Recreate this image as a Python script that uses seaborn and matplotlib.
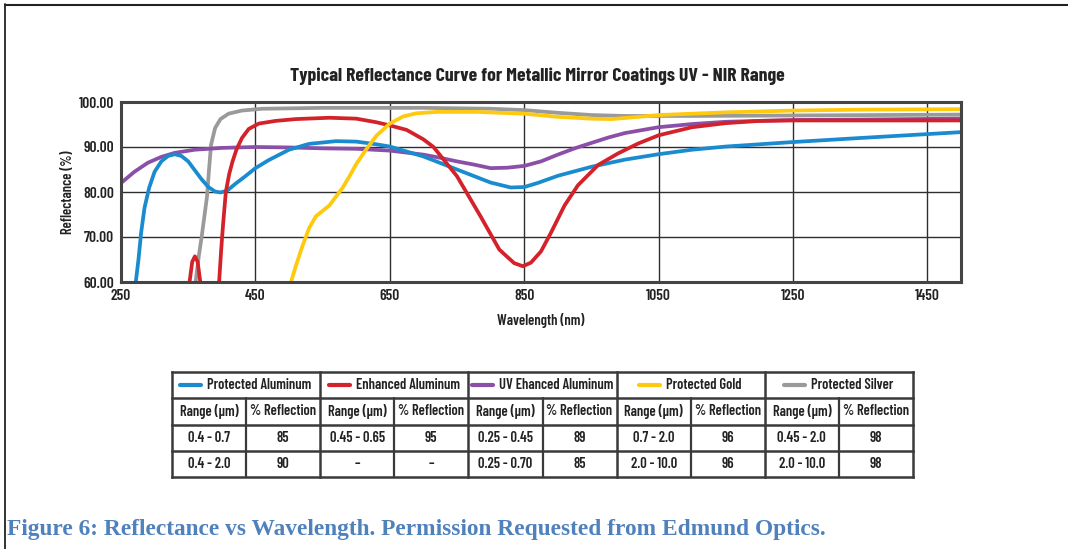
import numpy as np
import pandas as pd
import matplotlib
matplotlib.use("Agg")
import matplotlib.pyplot as plt
from matplotlib.lines import Line2D
import seaborn as sns

sns.set_theme(style="white")
plt.rcParams["font.family"] = ["Barlow Condensed", "Archivo Narrow", "Liberation Sans", "DejaVu Sans"]

W, H = 1068, 549

# curves (wavelength nm, reflectance %)
prot_al_wl = [272, 276, 280, 285, 292, 300, 310, 320, 330, 340, 350, 360, 370, 380, 390, 398, 408, 420, 435, 450,
              470, 500, 530, 570, 600, 630, 650, 700, 750, 800, 830, 850, 870, 900, 950, 1000, 1050, 1100, 1150,
              1250, 1350, 1500]
prot_al_r = [60, 65, 71, 76.5, 81, 84.5, 86.8, 88, 88.4, 88, 86.8, 84.8, 82.8, 81.1, 80.1, 79.9, 80.3, 81.8, 83.5, 85.3,
             87.1, 89.4, 90.7, 91.3, 91.2, 90.6, 90.1, 87.9, 85.0, 82.1, 81.0, 81.1, 82.0, 83.6, 85.6, 87.2, 88.4, 89.4,
             90.1, 91.1, 92.0, 93.3]

enh_al_wl = [345, 352, 356, 360, 364, 368, 372, 390, 396, 399, 402, 406, 411, 416, 422, 430, 440, 455, 480, 510,
             560, 600, 630, 650, 675, 700, 715, 750, 785, 813, 835, 848, 860, 875, 890, 910, 930, 960, 990, 1020,
             1050, 1100, 1150, 1200, 1250, 1500]
enh_al_r = [50, 60, 64.5, 65.7, 64.5, 60, 50, 45, 60, 67, 73, 80, 84, 86.8, 89.5, 92, 94, 95.2, 95.8, 96.2,
            96.5, 96.3, 95.5, 94.8, 93.8, 91.7, 90.0, 83.5, 74.6, 67.2, 64.2, 63.5, 64.3, 66.8, 71, 77, 81.5, 86,
            88.6, 90.8, 92.6, 94.4, 95.3, 95.8, 95.9, 95.9]

uv_al_wl = [250, 270, 290, 310, 330, 360, 400, 450, 500, 550, 600, 650, 700, 725, 750, 775, 800, 825, 850, 875,
            900, 925, 950, 975, 1000, 1050, 1100, 1150, 1250, 1350, 1500]
uv_al_r = [82.0, 84.5, 86.5, 87.8, 88.7, 89.4, 89.8, 90.0, 89.9, 89.7, 89.6, 89.2, 88.3, 87.6, 86.8, 86.1, 85.3,
           85.4, 85.8, 86.8, 88.3, 89.7, 90.9, 92.1, 93.1, 94.4, 95.1, 95.6, 96.0, 96.1, 96.3]

gold_wl = [503, 510, 520, 530, 540, 550, 560, 570, 580, 590, 600, 615, 630, 650, 670, 690, 720, 780, 850, 900,
           950, 980, 1020, 1050, 1150, 1250, 1350, 1500]
gold_r = [60, 63.5, 68, 72, 74.6, 75.8, 77, 79, 81, 83.5, 86.2, 89.5, 92.5, 95.2, 96.8, 97.5, 97.8, 97.8, 97.4,
          96.7, 96.3, 96.2, 96.7, 97.1, 97.7, 98.1, 98.3, 98.4]

silver_wl = [358, 361, 366, 370, 374, 378, 381, 384, 390, 398, 410, 430, 460, 550, 700, 800, 850, 900, 950, 1000,
             1100, 1250, 1500]
silver_r = [55, 60, 66, 70, 74.5, 79, 85, 90.5, 94.2, 96.2, 97.4, 98.1, 98.5, 98.7, 98.7, 98.5, 98.2, 97.6, 97.1,
            96.9, 96.9, 97.0, 97.2]

coatings = ["Protected Aluminum", "Enhanced Aluminum", "UV Ehanced Aluminum", "Protected Gold", "Protected Silver"]
colors = ["#1b8bd0", "#d3222a", "#8b4fa8", "#ffc90e", "#9a9a9a"]

# table values
range_row1 = ["0.4 - 0.7", "0.45 - 0.65", "0.25 - 0.45", "0.7 - 2.0", "0.45 - 2.0"]
refl_row1 = ["85", "95", "89", "96", "98"]
range_row2 = ["0.4 - 2.0", "\u2013", "0.25 - 0.70", "2.0 - 10.0", "2.0 - 10.0"]
refl_row2 = ["90", "\u2013", "85", "96", "98"]

caption = "Figure 6: Reflectance vs Wavelength. Permission Requested from Edmund Optics."

frames = []
for name, wl, r in [("Protected Aluminum", prot_al_wl, prot_al_r),
                    ("Enhanced Aluminum", enh_al_wl, enh_al_r),
                    ("UV Ehanced Aluminum", uv_al_wl, uv_al_r),
                    ("Protected Gold", gold_wl, gold_r),
                    ("Protected Silver", silver_wl, silver_r)]:
    frames.append(pd.DataFrame({"wavelength": wl, "reflectance": r, "coating": name}))
df = pd.concat(frames, ignore_index=True)

palette = dict(zip(coatings, colors))
draw_order = ["Protected Silver", "UV Ehanced Aluminum", "Protected Aluminum", "Enhanced Aluminum", "Protected Gold"]

fig = plt.figure(figsize=(W / 100, H / 100), dpi=100, facecolor="white")
ax = fig.add_axes([121 / W, 1 - 282 / H, (961 - 121) / W, (282 - 102) / H])

sns.lineplot(data=df, x="wavelength", y="reflectance", hue="coating", hue_order=draw_order,
             palette=palette, estimator=None, sort=False, linewidth=2.7, legend=False, ax=ax)

ax.set_xlim(250, 1500)
ax.set_ylim(60, 100)
ax.set_xticks(range(250, 1500, 200))
ax.set_yticks(range(60, 101, 10))
ax.set_yticklabels([f"{v:.2f}" for v in range(60, 101, 10)])
ax.grid(True, color="#2e2e2e", linewidth=1.0)
ax.set_axisbelow(True)
for s in ax.spines.values():
    s.set_visible(True)
    s.set_color("#444444")
    s.set_linewidth(2.2)
ax.tick_params(length=0, pad=5, labelsize=11, colors="#222222")
for lbl in ax.get_xticklabels() + ax.get_yticklabels():
    lbl.set_fontweight("semibold")
ax.set_xlabel("Wavelength (nm)", fontsize=10.5, fontweight="semibold", color="#222222")
ax.set_ylabel("Reflectance (%)", fontsize=10.5, fontweight="semibold", color="#222222")
ax.xaxis.set_label_coords(0.5, (282 - 320) / 180)
ax.xaxis.label.set_va("center")
ax.yaxis.set_label_coords((68 - 121) / 840, 0.5)
ax.yaxis.label.set_va("center")

fig.text(537 / W, 1 - 76 / H, "Typical Reflectance Curve for Metallic Mirror Coatings UV - NIR Range",
         ha="center", va="center", fontsize=14.2, fontweight="bold", color="#222222")

# table under the chart
tax = fig.add_axes([172 / W, 1 - 477 / H, (913 - 172) / W, (477 - 372) / H])
tax.set_xlim(0, 10)
tax.set_ylim(4, 0)
tax.axis("off")
lc = "#3a3a3a"
for y in range(5):
    tax.plot([0, 10], [y, y], color=lc, lw=1.8, clip_on=False, solid_capstyle="projecting")
for x in range(0, 11, 2):
    tax.plot([x, x], [0, 4], color=lc, lw=1.8, clip_on=False, solid_capstyle="projecting")
for x in range(1, 10, 2):
    tax.plot([x, x], [1, 4], color=lc, lw=1.6, clip_on=False)

tkw = dict(ha="center", va="center", fontsize=10.5, fontweight="semibold", color="#222222")
head_texts = []
for g, name in enumerate(coatings):
    t = tax.text(2 * g + 1 + 0.18, 0.5, name, **tkw)
    head_texts.append(t)
    tax.text(2 * g + 0.5, 1.5, "Range (\u00b5m)", **tkw)
    tax.text(2 * g + 1.5, 1.5, "% Reflection", **tkw)
    tax.text(2 * g + 0.5, 2.5, range_row1[g], **tkw)
    tax.text(2 * g + 1.5, 2.5, refl_row1[g], **tkw)
    tax.text(2 * g + 0.5, 3.5, range_row2[g], **tkw)
    tax.text(2 * g + 1.5, 3.5, refl_row2[g], **tkw)

fig.canvas.draw()
renderer = fig.canvas.get_renderer()
px = 10 / (913 - 172)
for t, c in zip(head_texts, colors):
    bb = t.get_window_extent(renderer).transformed(tax.transData.inverted())
    tax.plot([bb.x0 - 27 * px, bb.x0 - 6 * px], [0.5, 0.5], color=c, lw=3)

fig.text(7 / W, 1 - 530 / H, caption, ha="left", va="center", fontsize=16.8, fontweight="bold",
         family=["Liberation Serif", "DejaVu Serif"], color="#4f81bd")

# page frame lines
fig.add_artist(Line2D([5 / W, 1], [1 - 4.5 / H, 1 - 4.5 / H], color="#222222", lw=1.5, transform=fig.transFigure))
fig.add_artist(Line2D([5.5 / W, 5.5 / W], [1 - 4 / H, 0], color="#222222", lw=1.3, transform=fig.transFigure))

fig.savefig("out.png", dpi=100, facecolor="white")
